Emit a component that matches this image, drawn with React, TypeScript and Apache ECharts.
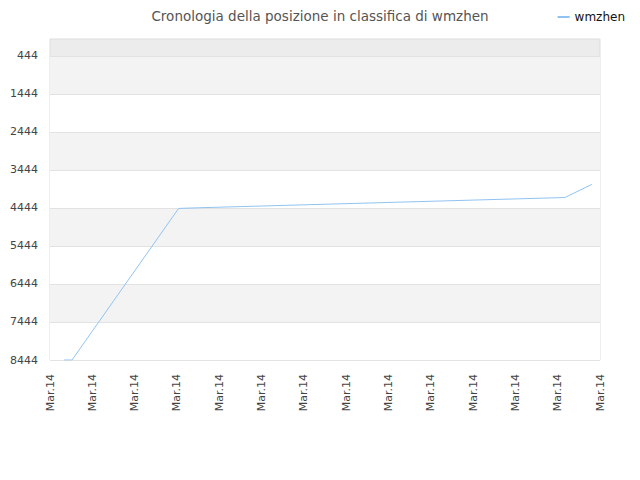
import { useEffect, useRef } from 'react';
import * as echarts from 'echarts';

const title = 'Cronologia della posizione in classifica di wmzhen';
const seriesName = 'wmzhen';

// x in units of the label spacing (14 labels, all the same day)
const tickLabels = ['Mar.14', 'Mar.14', 'Mar.14', 'Mar.14', 'Mar.14', 'Mar.14', 'Mar.14',
  'Mar.14', 'Mar.14', 'Mar.14', 'Mar.14', 'Mar.14', 'Mar.14', 'Mar.14'];
const xPos = [0.33, 0.52, 3.04, 3.5, 12.17, 12.81];
const ranks = [8444, 8444, 4457, 4440, 4170, 3824];
const rankTicks = [444, 1444, 2444, 3444, 4444, 5444, 6444, 7444, 8444];

export default function App() {
  const ref = useRef<HTMLDivElement>(null);

  useEffect(() => {
    const dom = ref.current;
    if (!dom) return;
    const chart = echarts.init(dom, null, { renderer: 'svg' });

    chart.setOption({
      animation: false,
      textStyle: { fontFamily: 'DejaVu Sans' },
      title: {
        text: title,
        left: 'center',
        top: 4,
        textStyle: { fontSize: 13.5, fontWeight: 'normal', color: '#555' },
      },
      legend: {
        data: [seriesName],
        right: 10,
        top: 6,
        itemWidth: 12,
        itemHeight: 2,
        itemGap: 6,
        icon: 'rect',
        textStyle: { fontSize: 12, color: '#111' },
      },
      grid: {
        left: 50,
        right: 40,
        top: 39,
        bottom: 120,
        show: true,
        backgroundColor: '#ececec',
        borderColor: '#dddddd',
        borderWidth: 1,
        outerBoundsMode: 'none',
      },
      xAxis: {
        type: 'value',
        min: 0,
        max: tickLabels.length - 1,
        interval: 1,
        axisLine: { show: false },
        axisTick: { show: false },
        splitLine: { show: false },
        axisLabel: {
          rotate: 90,
          fontSize: 11,
          color: '#444',
          margin: 14,
          formatter: (v: number) => tickLabels[Math.round(v)] ?? '',
        },
      },
      yAxis: {
        type: 'value',
        inverse: true,
        min: 0,
        max: 8444,
        axisLine: { show: false },
        axisTick: { show: false, customValues: rankTicks },
        axisLabel: {
          fontSize: 11,
          color: '#444',
          margin: 12,
          customValues: rankTicks,
          formatter: (v: number) => String(v),
        },
        splitLine: { show: true, lineStyle: { color: '#e2e2e2', width: 1 } },
        splitArea: { show: true, areaStyle: { color: ['#f3f3f3', '#ffffff'] } },
      },
      series: [
        {
          type: 'line',
          name: seriesName,
          data: xPos.map((x, i) => [x, ranks[i]]),
          showSymbol: false,
          symbol: 'none',
          lineStyle: { color: '#90c3f2', width: 1 },
          itemStyle: { color: '#90c3f2' },
        },
      ],
    } as echarts.EChartsOption);

    return () => chart.dispose();
  }, []);

  return <div ref={ref} style={{ width: 640, height: 480, margin: -8 }} />;
}
